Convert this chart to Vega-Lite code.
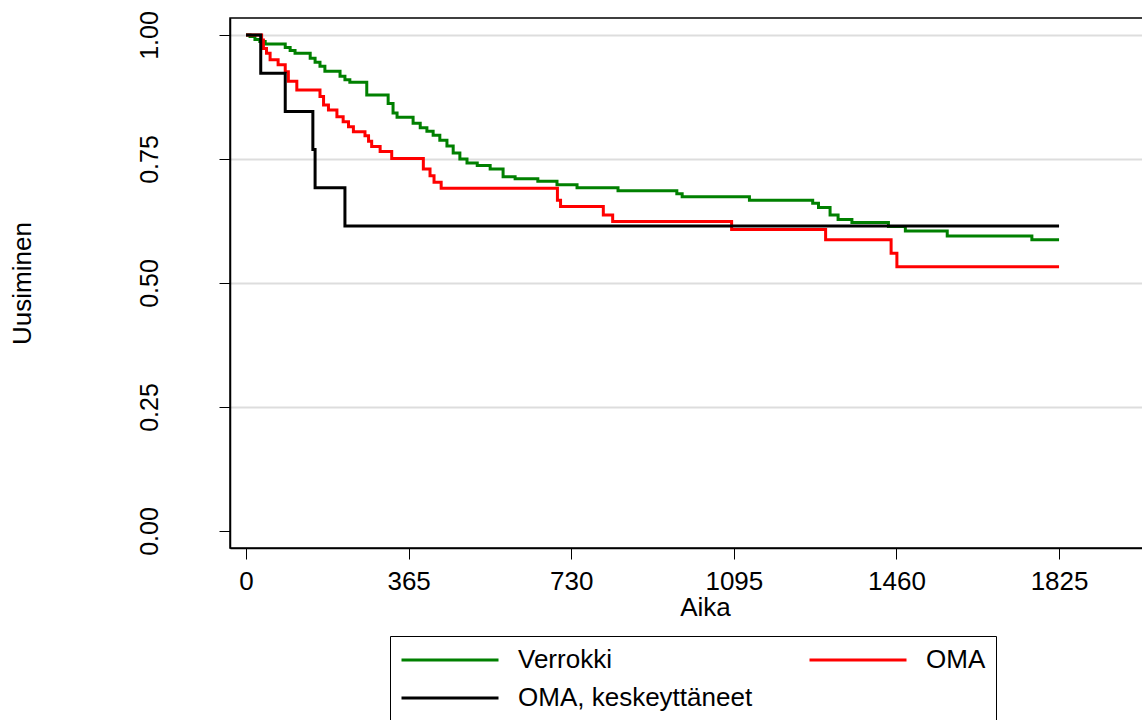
{
 "$schema": "https://vega.github.io/schema/vega-lite/v6.json",
 "width": 950,
 "height": 530,
 "autosize": {"type": "none"},
 "padding": {"left": 230, "top": 18, "right": 0, "bottom": 172},
 "background": "white",
 "config": {
  "font": "Liberation Sans",
  "view": {"stroke": "black", "strokeWidth": 1.5},
  "axis": {"domainColor": "black", "tickColor": "black", "labelColor": "black", "titleColor": "black", "titleFontWeight": "normal"}
 },
 "datasets": {
  "km": [
   {"group": "Verrokki", "day": 0, "surv": 1.0},
   {"group": "Verrokki", "day": 9, "surv": 0.997},
   {"group": "Verrokki", "day": 20, "surv": 0.991},
   {"group": "Verrokki", "day": 31, "surv": 0.987},
   {"group": "Verrokki", "day": 43, "surv": 0.982},
   {"group": "Verrokki", "day": 88, "surv": 0.975},
   {"group": "Verrokki", "day": 99, "surv": 0.969},
   {"group": "Verrokki", "day": 110, "surv": 0.963},
   {"group": "Verrokki", "day": 144, "surv": 0.953},
   {"group": "Verrokki", "day": 155, "surv": 0.945},
   {"group": "Verrokki", "day": 166, "surv": 0.937},
   {"group": "Verrokki", "day": 177, "surv": 0.927},
   {"group": "Verrokki", "day": 211, "surv": 0.917},
   {"group": "Verrokki", "day": 222, "surv": 0.910},
   {"group": "Verrokki", "day": 233, "surv": 0.905},
   {"group": "Verrokki", "day": 271, "surv": 0.879},
   {"group": "Verrokki", "day": 319, "surv": 0.862},
   {"group": "Verrokki", "day": 330, "surv": 0.843},
   {"group": "Verrokki", "day": 339, "surv": 0.834},
   {"group": "Verrokki", "day": 375, "surv": 0.822},
   {"group": "Verrokki", "day": 391, "surv": 0.813},
   {"group": "Verrokki", "day": 406, "surv": 0.806},
   {"group": "Verrokki", "day": 420, "surv": 0.798},
   {"group": "Verrokki", "day": 435, "surv": 0.788},
   {"group": "Verrokki", "day": 451, "surv": 0.776},
   {"group": "Verrokki", "day": 465, "surv": 0.762},
   {"group": "Verrokki", "day": 480, "surv": 0.750},
   {"group": "Verrokki", "day": 496, "surv": 0.742},
   {"group": "Verrokki", "day": 519, "surv": 0.737},
   {"group": "Verrokki", "day": 548, "surv": 0.730},
   {"group": "Verrokki", "day": 577, "surv": 0.714},
   {"group": "Verrokki", "day": 604, "surv": 0.710},
   {"group": "Verrokki", "day": 655, "surv": 0.705},
   {"group": "Verrokki", "day": 698, "surv": 0.698},
   {"group": "Verrokki", "day": 743, "surv": 0.692},
   {"group": "Verrokki", "day": 835, "surv": 0.686},
   {"group": "Verrokki", "day": 967, "surv": 0.680},
   {"group": "Verrokki", "day": 979, "surv": 0.674},
   {"group": "Verrokki", "day": 1130, "surv": 0.667},
   {"group": "Verrokki", "day": 1272, "surv": 0.661},
   {"group": "Verrokki", "day": 1285, "surv": 0.652},
   {"group": "Verrokki", "day": 1311, "surv": 0.637},
   {"group": "Verrokki", "day": 1329, "surv": 0.628},
   {"group": "Verrokki", "day": 1360, "surv": 0.622},
   {"group": "Verrokki", "day": 1442, "surv": 0.614},
   {"group": "Verrokki", "day": 1480, "surv": 0.605},
   {"group": "Verrokki", "day": 1574, "surv": 0.595},
   {"group": "Verrokki", "day": 1764, "surv": 0.587},
   {"group": "Verrokki", "day": 1825, "surv": 0.587},
   {"group": "OMA", "day": 0, "surv": 1.0},
   {"group": "OMA", "day": 35, "surv": 0.990},
   {"group": "OMA", "day": 39, "surv": 0.973},
   {"group": "OMA", "day": 46, "surv": 0.963},
   {"group": "OMA", "day": 54, "surv": 0.950},
   {"group": "OMA", "day": 72, "surv": 0.940},
   {"group": "OMA", "day": 88, "surv": 0.926},
   {"group": "OMA", "day": 95, "surv": 0.907},
   {"group": "OMA", "day": 114, "surv": 0.889},
   {"group": "OMA", "day": 166, "surv": 0.876},
   {"group": "OMA", "day": 174, "surv": 0.859},
   {"group": "OMA", "day": 185, "surv": 0.849},
   {"group": "OMA", "day": 204, "surv": 0.835},
   {"group": "OMA", "day": 218, "surv": 0.825},
   {"group": "OMA", "day": 230, "surv": 0.815},
   {"group": "OMA", "day": 241, "surv": 0.805},
   {"group": "OMA", "day": 267, "surv": 0.797},
   {"group": "OMA", "day": 275, "surv": 0.786},
   {"group": "OMA", "day": 282, "surv": 0.775},
   {"group": "OMA", "day": 301, "surv": 0.765},
   {"group": "OMA", "day": 327, "surv": 0.751},
   {"group": "OMA", "day": 398, "surv": 0.730},
   {"group": "OMA", "day": 413, "surv": 0.716},
   {"group": "OMA", "day": 422, "surv": 0.703},
   {"group": "OMA", "day": 438, "surv": 0.691},
   {"group": "OMA", "day": 699, "surv": 0.667},
   {"group": "OMA", "day": 706, "surv": 0.654},
   {"group": "OMA", "day": 802, "surv": 0.637},
   {"group": "OMA", "day": 823, "surv": 0.624},
   {"group": "OMA", "day": 1090, "surv": 0.608},
   {"group": "OMA", "day": 1301, "surv": 0.587},
   {"group": "OMA", "day": 1448, "surv": 0.560},
   {"group": "OMA", "day": 1461, "surv": 0.533},
   {"group": "OMA", "day": 1825, "surv": 0.533},
   {"group": "OMA, keskeyttäneet", "day": 0, "surv": 1.0},
   {"group": "OMA, keskeyttäneet", "day": 33, "surv": 0.923},
   {"group": "OMA, keskeyttäneet", "day": 88, "surv": 0.846},
   {"group": "OMA, keskeyttäneet", "day": 150, "surv": 0.769},
   {"group": "OMA, keskeyttäneet", "day": 155, "surv": 0.692},
   {"group": "OMA, keskeyttäneet", "day": 222, "surv": 0.615},
   {"group": "OMA, keskeyttäneet", "day": 1825, "surv": 0.615}
  ]
 },
 "data": {"name": "km"},
 "mark": {"type": "line", "interpolate": "step-after", "strokeWidth": 3, "clip": true},
 "encoding": {
  "x": {
   "field": "day", "type": "quantitative",
   "scale": {"domain": [-36, 2096.5], "nice": false, "zero": false},
   "axis": {"values": [0, 365, 730, 1095, 1460, 1825], "format": "d", "title": "Aika", "grid": false, "tickSize": 11, "labelPadding": 9, "labelFontSize": 26, "titleFontSize": 26, "titlePadding": 0, "domainWidth": 1.5, "labelFlush": false}
  },
  "y": {
   "field": "surv", "type": "quantitative",
   "scale": {"domain": [-0.0343, 1.0343], "nice": false, "zero": false},
   "axis": {"values": [0, 0.25, 0.5, 0.75, 1], "format": ".2f", "title": "Uusiminen", "labelAngle": -90, "labelAlign": "center", "labelBaseline": "bottom", "tickSize": 11, "labelPadding": 57, "labelFontSize": 25, "titleFontSize": 26, "titlePadding": 102, "grid": true, "gridColor": "#dddddd", "gridWidth": 2, "gridOpacity": {"condition": {"test": "datum.value === 0", "value": 0}, "value": 1}, "domainWidth": 1.5, "labelFlush": false}
  },
  "color": {
   "field": "group", "type": "nominal",
   "scale": {"domain": ["Verrokki", "OMA", "OMA, keskeyttäneet"], "range": ["#008000", "#ff0000", "#000000"]},
   "legend": {"title": null, "orient": "none", "legendX": 160, "legendY": 618, "direction": "horizontal", "columns": 2, "symbolType": "stroke", "symbolSize": 9409, "symbolStrokeWidth": 3, "clipHeight": 28, "labelFontSize": 26, "labelOffset": 18, "rowPadding": 10, "columnPadding": 55, "padding": 10, "strokeColor": "black", "labelColor": "black", "labelLimit": 400}
  }
 }
}
